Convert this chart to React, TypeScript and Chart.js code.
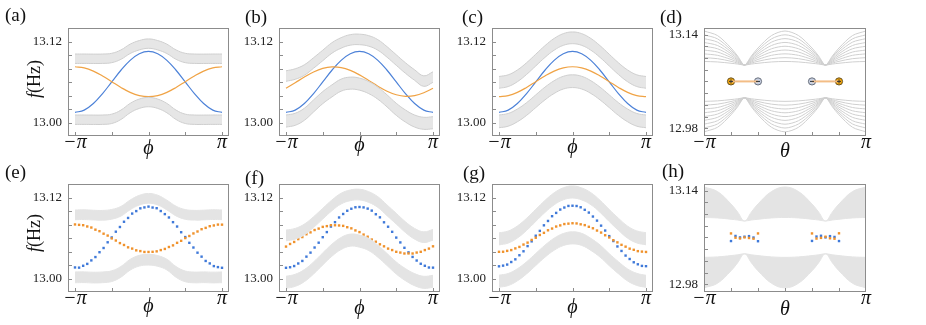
import React, { useEffect, useRef } from "react";
import { Chart, registerables } from "chart.js";

Chart.register(...registerables);

const SERIF = "'Liberation Serif', 'Times New Roman', Times, serif";

// ---------- colours ----------
const BLUE = "#4d82d8";
const ORANGE = "#f0a345";
const DOT_BLUE = "#3f79d9";
const DOT_ORANGE = "#f0922c";
const BAND_FILL = "#e6e6e6";
const BAND_EDGE = "#cfcfcf";
const EXP_BAND = "#e4e4e4";
const D_LINE = "#d0d0d0";
const FRAME = "#8c8c8c";

// ---------- axes / ticks ----------
const phiDeg17 = [-180, -157.5, -135, -112.5, -90, -67.5, -45, -22.5, 0, 22.5, 45, 67.5, 90, 112.5, 135, 157.5, 180];
const phiDeg37 = [-180, -170, -160, -150, -140, -130, -120, -110, -100, -90, -80, -70, -60, -50, -40, -30, -20, -10, 0, 10, 20, 30, 40, 50, 60, 70, 80, 90, 100, 110, 120, 130, 140, 150, 160, 170, 180];
const thetaDeg17 = [-180, -150, -120, -105, -90, -75, -60, -30, 0, 30, 60, 75, 90, 105, 120, 150, 180];

const phiTickDeg = [-180, -90, 0, 90, 180];
const phiLabelDeg = [-180, 180];
const thetaTickDeg = [-120, -60, 0, 60, 120];
const thetaLabelDeg = [-180, 180];
const fTicksPhi = [13.0, 13.02, 13.04, 13.06, 13.08, 13.1, 13.12];
const fLabelsPhi = [13.0, 13.12];
const fTicksTheta = [12.98, 13.0, 13.02, 13.04, 13.06, 13.08, 13.1, 13.12, 13.14];
const fLabelsTheta = [12.98, 13.14];

// ---------- (a)-(c) theory curves ----------
const topBlue = [13.0150, 13.0185, 13.0283, 13.0431, 13.0605, 13.0779, 13.0927, 13.1025, 13.1060, 13.1025, 13.0927, 13.0779, 13.0605, 13.0431, 13.0283, 13.0185, 13.0150];

const aOrange = [13.0831, 13.0814, 13.0766, 13.0693, 13.0608, 13.0523, 13.0450, 13.0402, 13.0385, 13.0402, 13.0450, 13.0523, 13.0608, 13.0693, 13.0766, 13.0814, 13.0831];
const aUpperTop = [13.1021, 13.1021, 13.1020, 13.1021, 13.1032, 13.1082, 13.1168, 13.1222, 13.1246, 13.1222, 13.1168, 13.1082, 13.1032, 13.1021, 13.1020, 13.1021, 13.1021];
const aUpperBottom = [13.0881, 13.0881, 13.0880, 13.0881, 13.0892, 13.0942, 13.1028, 13.1082, 13.1106, 13.1082, 13.1028, 13.0942, 13.0892, 13.0881, 13.0880, 13.0881, 13.0881];
const aLowerTop = [13.0112, 13.0112, 13.0111, 13.0112, 13.0125, 13.0185, 13.0285, 13.0350, 13.0375, 13.0350, 13.0285, 13.0185, 13.0125, 13.0112, 13.0111, 13.0112, 13.0112];
const aLowerBottom = [12.9972, 12.9972, 12.9971, 12.9972, 12.9985, 13.0045, 13.0145, 13.0210, 13.0235, 13.0210, 13.0145, 13.0045, 12.9985, 12.9972, 12.9971, 12.9972, 12.9972];

const bOrange = [13.0510, 13.0593, 13.0678, 13.0753, 13.0806, 13.0829, 13.0819, 13.0777, 13.0710, 13.0627, 13.0542, 13.0467, 13.0414, 13.0391, 13.0401, 13.0443, 13.0510];
const bUpperTop = [13.0771, 13.0801, 13.0861, 13.0966, 13.1078, 13.1190, 13.1265, 13.1310, 13.1317, 13.1295, 13.1235, 13.1130, 13.1010, 13.0891, 13.0786, 13.0696, 13.0756];
const bUpperBottom = [13.0614, 13.0644, 13.0704, 13.0809, 13.0921, 13.1033, 13.1108, 13.1153, 13.1160, 13.1138, 13.1078, 13.0973, 13.0853, 13.0734, 13.0629, 13.0539, 13.0599];
const bLowerTop = [13.0112, 13.0138, 13.0213, 13.0337, 13.0461, 13.0561, 13.0647, 13.0677, 13.0662, 13.0611, 13.0527, 13.0412, 13.0287, 13.0187, 13.0112, 13.0078, 13.0087];
const bLowerBottom = [12.9932, 12.9958, 13.0033, 13.0157, 13.0281, 13.0381, 13.0467, 13.0497, 13.0482, 13.0431, 13.0347, 13.0232, 13.0107, 13.0007, 12.9932, 12.9898, 12.9907];

const cOrange = [13.0385, 13.0402, 13.0450, 13.0523, 13.0608, 13.0693, 13.0766, 13.0814, 13.0831, 13.0814, 13.0766, 13.0693, 13.0608, 13.0523, 13.0450, 13.0402, 13.0385];
const cUpperTop = [13.0686, 13.0711, 13.0783, 13.0891, 13.1018, 13.1145, 13.1253, 13.1325, 13.1350, 13.1325, 13.1253, 13.1145, 13.1018, 13.0891, 13.0783, 13.0711, 13.0686];
const cUpperBottom = [13.0511, 13.0536, 13.0608, 13.0716, 13.0843, 13.0970, 13.1078, 13.1150, 13.1175, 13.1150, 13.1078, 13.0970, 13.0843, 13.0716, 13.0608, 13.0536, 13.0511];
const cLowerTop = [13.0112, 13.0135, 13.0201, 13.0296, 13.0412, 13.0527, 13.0623, 13.0689, 13.0711, 13.0689, 13.0623, 13.0527, 13.0412, 13.0296, 13.0201, 13.0135, 13.0112];
const cLowerBottom = [12.9922, 12.9945, 13.0011, 13.0106, 13.0222, 13.0337, 13.0433, 13.0499, 13.0521, 13.0499, 13.0433, 13.0337, 13.0222, 13.0106, 13.0011, 12.9945, 12.9922];

// ---------- (d) bulk lines ----------
const dU0 = [13.0940, 13.0932, 13.0910, 13.0896, 13.0880, 13.0896, 13.0910, 13.0932, 13.0940, 13.0932, 13.0910, 13.0896, 13.0880, 13.0896, 13.0910, 13.0932, 13.0940];
const dU1 = [13.1005, 13.0988, 13.0943, 13.0912, 13.0880, 13.0912, 13.0943, 13.0988, 13.1005, 13.0988, 13.0943, 13.0912, 13.0880, 13.0912, 13.0943, 13.0988, 13.1005];
const dU2 = [13.1070, 13.1045, 13.0975, 13.0929, 13.0880, 13.0929, 13.0975, 13.1045, 13.1070, 13.1045, 13.0975, 13.0929, 13.0880, 13.0929, 13.0975, 13.1045, 13.1070];
const dU3 = [13.1135, 13.1101, 13.1008, 13.0946, 13.0880, 13.0946, 13.1008, 13.1101, 13.1135, 13.1101, 13.1008, 13.0946, 13.0880, 13.0946, 13.1008, 13.1101, 13.1135];
const dU4 = [13.1200, 13.1157, 13.1040, 13.0963, 13.0880, 13.0963, 13.1040, 13.1157, 13.1200, 13.1157, 13.1040, 13.0963, 13.0880, 13.0963, 13.1040, 13.1157, 13.1200];
const dU5 = [13.1265, 13.1213, 13.1073, 13.0980, 13.0880, 13.0980, 13.1073, 13.1213, 13.1265, 13.1213, 13.1073, 13.0980, 13.0880, 13.0980, 13.1073, 13.1213, 13.1265];
const dU6 = [13.1330, 13.1270, 13.1105, 13.0996, 13.0880, 13.0996, 13.1105, 13.1270, 13.1330, 13.1270, 13.1105, 13.0996, 13.0880, 13.0996, 13.1105, 13.1270, 13.1330];
const dU7 = [13.1395, 13.1326, 13.1138, 13.1013, 13.0880, 13.1013, 13.1138, 13.1326, 13.1395, 13.1326, 13.1138, 13.1013, 13.0880, 13.1013, 13.1138, 13.1326, 13.1395];
const dU8 = [13.1460, 13.1382, 13.1170, 13.1030, 13.0880, 13.1030, 13.1170, 13.1382, 13.1460, 13.1382, 13.1170, 13.1030, 13.0880, 13.1030, 13.1170, 13.1382, 13.1460];
const dL0 = [13.0260, 13.0268, 13.0290, 13.0304, 13.0320, 13.0304, 13.0290, 13.0268, 13.0260, 13.0268, 13.0290, 13.0304, 13.0320, 13.0304, 13.0290, 13.0268, 13.0260];
const dL1 = [13.0195, 13.0212, 13.0257, 13.0288, 13.0320, 13.0288, 13.0257, 13.0212, 13.0195, 13.0212, 13.0257, 13.0288, 13.0320, 13.0288, 13.0257, 13.0212, 13.0195];
const dL2 = [13.0130, 13.0155, 13.0225, 13.0271, 13.0320, 13.0271, 13.0225, 13.0155, 13.0130, 13.0155, 13.0225, 13.0271, 13.0320, 13.0271, 13.0225, 13.0155, 13.0130];
const dL3 = [13.0065, 13.0099, 13.0192, 13.0254, 13.0320, 13.0254, 13.0192, 13.0099, 13.0065, 13.0099, 13.0192, 13.0254, 13.0320, 13.0254, 13.0192, 13.0099, 13.0065];
const dL4 = [13.0000, 13.0043, 13.0160, 13.0237, 13.0320, 13.0237, 13.0160, 13.0043, 13.0000, 13.0043, 13.0160, 13.0237, 13.0320, 13.0237, 13.0160, 13.0043, 13.0000];
const dL5 = [12.9935, 12.9987, 13.0127, 13.0220, 13.0320, 13.0220, 13.0127, 12.9987, 12.9935, 12.9987, 13.0127, 13.0220, 13.0320, 13.0220, 13.0127, 12.9987, 12.9935];
const dL6 = [12.9870, 12.9930, 13.0095, 13.0204, 13.0320, 13.0204, 13.0095, 12.9930, 12.9870, 12.9930, 13.0095, 13.0204, 13.0320, 13.0204, 13.0095, 12.9930, 12.9870];
const dL7 = [12.9805, 12.9874, 13.0062, 13.0187, 13.0320, 13.0187, 13.0062, 12.9874, 12.9805, 12.9874, 13.0062, 13.0187, 13.0320, 13.0187, 13.0062, 12.9874, 12.9805];
const dL8 = [12.9740, 12.9818, 13.0030, 13.0170, 13.0320, 13.0170, 13.0030, 12.9818, 12.9740, 12.9818, 13.0030, 13.0170, 13.0320, 13.0170, 13.0030, 12.9818, 12.9740];
const dUpperLines = [dU0, dU1, dU2, dU3, dU4, dU5, dU6, dU7, dU8];
const dLowerLines = [dL0, dL1, dL2, dL3, dL4, dL5, dL6, dL7, dL8];

// (d) edge states
const dEdgeLeftTheta = [-120, -60];
const dEdgeRightTheta = [60, 120];
const dEdgeFreq = [13.06, 13.06];
const dMarkTheta = [-120, -60, 60, 120];
const dMarkFreq = [13.06, 13.06, 13.06, 13.06];
const dMarkSign = ["+", "-", "-", "+"];

// ---------- (e)-(g) measured ----------
const eBlue = [13.0165, 13.0162, 13.0190, 13.0218, 13.0270, 13.0320, 13.0392, 13.0455, 13.0540, 13.0612, 13.0698, 13.0768, 13.0846, 13.0903, 13.0968, 13.1005, 13.1046, 13.1060, 13.1072, 13.1058, 13.1048, 13.1006, 13.0960, 13.0910, 13.0840, 13.0775, 13.0690, 13.0618, 13.0532, 13.0462, 13.0385, 13.0326, 13.0262, 13.0225, 13.0185, 13.0170, 13.0160];
const eOrange = [13.0806, 13.0800, 13.0795, 13.0776, 13.0760, 13.0728, 13.0706, 13.0668, 13.0640, 13.0598, 13.0566, 13.0528, 13.0500, 13.0465, 13.0446, 13.0420, 13.0409, 13.0396, 13.0396, 13.0398, 13.0405, 13.0424, 13.0441, 13.0470, 13.0494, 13.0532, 13.0562, 13.0603, 13.0634, 13.0672, 13.0701, 13.0735, 13.0755, 13.0780, 13.0791, 13.0804, 13.0803];
const eUpperTop = [13.1021, 13.1024, 13.1018, 13.1015, 13.1030, 13.1075, 13.1170, 13.1240, 13.1268, 13.1242, 13.1168, 13.1078, 13.1028, 13.1016, 13.1019, 13.1025, 13.1022];
const eUpperBottom = [13.0876, 13.0879, 13.0873, 13.0870, 13.0885, 13.0930, 13.1025, 13.1095, 13.1123, 13.1097, 13.1023, 13.0933, 13.0883, 13.0871, 13.0874, 13.0880, 13.0877];
const eLowerTop = [13.0097, 13.0099, 13.0094, 13.0098, 13.0115, 13.0180, 13.0285, 13.0345, 13.0360, 13.0342, 13.0288, 13.0178, 13.0112, 13.0096, 13.0099, 13.0095, 13.0098];
const eLowerBottom = [12.9937, 12.9939, 12.9934, 12.9938, 12.9955, 13.0020, 13.0125, 13.0185, 13.0200, 13.0182, 13.0128, 13.0018, 12.9952, 12.9936, 12.9939, 12.9935, 12.9938];

const fBlue = [13.0160, 13.0168, 13.0186, 13.0224, 13.0262, 13.0326, 13.0386, 13.0462, 13.0534, 13.0616, 13.0692, 13.0774, 13.0840, 13.0910, 13.0962, 13.1010, 13.1040, 13.1062, 13.1066, 13.1060, 13.1042, 13.1012, 13.0958, 13.0912, 13.0838, 13.0772, 13.0696, 13.0610, 13.0538, 13.0458, 13.0390, 13.0322, 13.0268, 13.0220, 13.0190, 13.0164, 13.0162];
const fOrange = [13.0476, 13.0515, 13.0545, 13.0587, 13.0618, 13.0660, 13.0688, 13.0723, 13.0744, 13.0770, 13.0781, 13.0795, 13.0794, 13.0791, 13.0785, 13.0765, 13.0748, 13.0717, 13.0692, 13.0655, 13.0623, 13.0581, 13.0549, 13.0510, 13.0480, 13.0446, 13.0424, 13.0398, 13.0387, 13.0373, 13.0374, 13.0373, 13.0387, 13.0398, 13.0424, 13.0446, 13.0480];
const fUpperTop = [13.0722, 13.0747, 13.0811, 13.0921, 13.1046, 13.1171, 13.1271, 13.1320, 13.1331, 13.1295, 13.1220, 13.1096, 13.0972, 13.0846, 13.0747, 13.0696, 13.0732];
const fUpperBottom = [13.0562, 13.0587, 13.0651, 13.0761, 13.0886, 13.1011, 13.1111, 13.1160, 13.1171, 13.1135, 13.1060, 13.0936, 13.0812, 13.0686, 13.0587, 13.0536, 13.0572];
const fLowerTop = [13.0033, 13.0063, 13.0133, 13.0247, 13.0382, 13.0512, 13.0612, 13.0662, 13.0647, 13.0597, 13.0497, 13.0373, 13.0247, 13.0148, 13.0073, 13.0033, 13.0048];
const fLowerBottom = [12.9853, 12.9883, 12.9953, 13.0067, 13.0202, 13.0332, 13.0432, 13.0482, 13.0467, 13.0417, 13.0317, 13.0193, 13.0067, 12.9968, 12.9893, 12.9853, 12.9868];

const gBlue = [13.0182, 13.0192, 13.0208, 13.0246, 13.0286, 13.0347, 13.0406, 13.0483, 13.0554, 13.0638, 13.0710, 13.0793, 13.0858, 13.0929, 13.0978, 13.1028, 13.1058, 13.1082, 13.1085, 13.1081, 13.1062, 13.1024, 13.0983, 13.0924, 13.0863, 13.0788, 13.0715, 13.0632, 13.0559, 13.0478, 13.0411, 13.0342, 13.0291, 13.0242, 13.0212, 13.0188, 13.0184];
const gOrange = [13.0398, 13.0399, 13.0412, 13.0424, 13.0449, 13.0471, 13.0506, 13.0535, 13.0575, 13.0608, 13.0649, 13.0681, 13.0719, 13.0745, 13.0775, 13.0792, 13.0812, 13.0818, 13.0824, 13.0821, 13.0808, 13.0796, 13.0771, 13.0749, 13.0715, 13.0685, 13.0645, 13.0612, 13.0571, 13.0539, 13.0502, 13.0475, 13.0445, 13.0428, 13.0408, 13.0401, 13.0396];
const gUpperTop = [13.0681, 13.0708, 13.0783, 13.0897, 13.1031, 13.1164, 13.1278, 13.1353, 13.1380, 13.1351, 13.1280, 13.1166, 13.1029, 13.0899, 13.0781, 13.0710, 13.0683];
const gUpperBottom = [13.0501, 13.0528, 13.0603, 13.0717, 13.0851, 13.0984, 13.1098, 13.1173, 13.1200, 13.1171, 13.1100, 13.0986, 13.0849, 13.0719, 13.0601, 13.0530, 13.0503];
const gLowerTop = [13.0050, 13.0075, 13.0145, 13.0249, 13.0373, 13.0497, 13.0601, 13.0671, 13.0696, 13.0673, 13.0599, 13.0499, 13.0371, 13.0251, 13.0143, 13.0077, 13.0048];
const gLowerBottom = [12.9870, 12.9895, 12.9965, 13.0069, 13.0193, 13.0317, 13.0421, 13.0491, 13.0516, 13.0493, 13.0419, 13.0319, 13.0191, 13.0071, 12.9963, 12.9897, 12.9868];

// ---------- (h) measured ----------
const hLeftTheta = [-120, -110, -100, -90, -80, -70, -60];
const hRightTheta = [60, 70, 80, 90, 100, 110, 120];
const hLeftOrange = [13.0668, 13.0595, 13.0582, 13.0600, 13.0590, 13.0578, 13.0668];
const hLeftBlue = [13.0538, 13.0625, 13.0600, 13.0612, 13.0622, 13.0598, 13.0535];
const hRightOrange = [13.0668, 13.0580, 13.0592, 13.0612, 13.0585, 13.0578, 13.0670];
const hRightBlue = [13.0540, 13.0615, 13.0628, 13.0600, 13.0622, 13.0608, 13.0538];

// ---------- dataset helpers ----------
const xy = (xs: number[], ys: number[]) => xs.map((x, i) => ({ x, y: ys[i] }));

function curve(xs: number[], ys: number[], color: string, width = 1.2, tension = 0.4) {
  return { data: xy(xs, ys), borderColor: color, borderWidth: width, pointRadius: 0, fill: false, tension };
}
function band(xs: number[], top: number[], bottom: number[], fill: string, edge: string, edgeWidth = 1) {
  return [
    { data: xy(xs, bottom), borderColor: edge, borderWidth: edgeWidth, pointRadius: 0, fill: false, tension: 0.4 },
    { data: xy(xs, top), borderColor: edge, borderWidth: edgeWidth, pointRadius: 0, fill: "-1", backgroundColor: fill, tension: 0.4 },
  ];
}
function dots(xs: number[], ys: number[], color: string) {
  return {
    data: xy(xs, ys), showLine: false, pointStyle: "rect", pointRadius: 1.7,
    pointBackgroundColor: color, pointBorderWidth: 0, borderColor: color, backgroundColor: color,
  };
}

// ---------- plugins ----------
const frameTicksPlugin = {
  id: "frameTicks",
  afterDatasetsDraw(chart: any, _args: any, opts: any) {
    const { ctx, chartArea: a, scales } = chart;
    ctx.save();
    ctx.strokeStyle = FRAME;
    ctx.lineWidth = 1;
    ctx.beginPath();
    for (const v of opts.xTicks) {
      const px = Math.round(scales.x.getPixelForValue(v)) + 0.5;
      ctx.moveTo(px, a.bottom);
      ctx.lineTo(px, a.bottom - 4);
    }
    for (const v of opts.yTicks) {
      const py = Math.round(scales.y.getPixelForValue(v)) + 0.5;
      ctx.moveTo(a.left, py);
      ctx.lineTo(a.left + 4, py);
    }
    ctx.stroke();
    ctx.strokeRect(a.left + 0.5, a.top + 0.5, a.right - a.left - 1, a.bottom - a.top - 1);
    ctx.restore();
  },
};

const signPlugin = {
  id: "edgeSigns",
  afterDatasetsDraw(chart: any) {
    const ctx = chart.ctx;
    chart.data.datasets.forEach((ds: any, i: number) => {
      if (!ds.signs) return;
      const meta = chart.getDatasetMeta(i);
      meta.data.forEach((el: any, j: number) => {
        const s = ds.signs[j];
        const x = el.x, y = el.y;
        ctx.save();
        ctx.strokeStyle = "#333";
        ctx.lineWidth = 1;
        ctx.beginPath();
        ctx.moveTo(x - 2, y);
        ctx.lineTo(x + 2, y);
        if (s === "+") {
          ctx.moveTo(x, y - 2);
          ctx.lineTo(x, y + 2);
        }
        ctx.stroke();
        ctx.restore();
      });
    });
  },
};

// ---------- panels ----------
const PHI_PAD = 17.14;
const PHI_Y = { min: 12.9799, max: 13.1409 };
const THETA_Y = { min: 12.9669, max: 13.1511 };

type Spec = {
  key: string; L: number; T: number; W: number; H: number; theta: boolean; build: () => any[];
};

const panels: Spec[] = [
  {
    key: "a", L: 68, T: 28, W: 161, H: 108, theta: false,
    build: () => [
      ...band(phiDeg17, aUpperTop, aUpperBottom, BAND_FILL, BAND_EDGE),
      ...band(phiDeg17, aLowerTop, aLowerBottom, BAND_FILL, BAND_EDGE),
      curve(phiDeg17, aOrange, ORANGE),
      curve(phiDeg17, topBlue, BLUE),
    ],
  },
  {
    key: "b", L: 279, T: 28, W: 161, H: 108, theta: false,
    build: () => [
      ...band(phiDeg17, bUpperTop, bUpperBottom, BAND_FILL, BAND_EDGE),
      ...band(phiDeg17, bLowerTop, bLowerBottom, BAND_FILL, BAND_EDGE),
      curve(phiDeg17, bOrange, ORANGE),
      curve(phiDeg17, topBlue, BLUE),
    ],
  },
  {
    key: "c", L: 492, T: 28, W: 161, H: 108, theta: false,
    build: () => [
      ...band(phiDeg17, cUpperTop, cUpperBottom, BAND_FILL, BAND_EDGE),
      ...band(phiDeg17, cLowerTop, cLowerBottom, BAND_FILL, BAND_EDGE),
      curve(phiDeg17, cOrange, ORANGE),
      curve(phiDeg17, topBlue, BLUE),
    ],
  },
  {
    key: "d", L: 704, T: 28, W: 162, H: 108, theta: true,
    build: () => [
      ...dUpperLines.map((l) => curve(thetaDeg17, l, D_LINE, 1, 0.3)),
      ...dLowerLines.map((l) => curve(thetaDeg17, l, D_LINE, 1, 0.3)),
      curve(dEdgeLeftTheta, dEdgeFreq, "#f3bd86", 2, 0),
      curve(dEdgeRightTheta, dEdgeFreq, "#f3bd86", 2, 0),
      {
        data: xy(dMarkTheta, dMarkFreq), showLine: false, pointStyle: "circle", pointRadius: 3.6,
        pointBackgroundColor: ["#f2a60c", "#c9d1e2", "#c9d1e2", "#f2a60c"],
        pointBorderColor: ["#5a4a22", "#5e6472", "#5e6472", "#5a4a22"],
        pointBorderWidth: 0.9, signs: dMarkSign,
      },
    ],
  },
  {
    key: "e", L: 68, T: 184, W: 161, H: 108, theta: false,
    build: () => [
      ...band(phiDeg17, eUpperTop, eUpperBottom, EXP_BAND, EXP_BAND),
      ...band(phiDeg17, eLowerTop, eLowerBottom, EXP_BAND, EXP_BAND),
      dots(phiDeg37, eOrange, DOT_ORANGE),
      dots(phiDeg37, eBlue, DOT_BLUE),
    ],
  },
  {
    key: "f", L: 279, T: 184, W: 161, H: 108, theta: false,
    build: () => [
      ...band(phiDeg17, fUpperTop, fUpperBottom, EXP_BAND, EXP_BAND),
      ...band(phiDeg17, fLowerTop, fLowerBottom, EXP_BAND, EXP_BAND),
      dots(phiDeg37, fOrange, DOT_ORANGE),
      dots(phiDeg37, fBlue, DOT_BLUE),
    ],
  },
  {
    key: "g", L: 492, T: 184, W: 161, H: 108, theta: false,
    build: () => [
      ...band(phiDeg17, gUpperTop, gUpperBottom, EXP_BAND, EXP_BAND),
      ...band(phiDeg17, gLowerTop, gLowerBottom, EXP_BAND, EXP_BAND),
      dots(phiDeg37, gOrange, DOT_ORANGE),
      dots(phiDeg37, gBlue, DOT_BLUE),
    ],
  },
  {
    key: "h", L: 704, T: 184, W: 162, H: 108, theta: true,
    build: () => [
      ...band(thetaDeg17, dU8, dU0, EXP_BAND, EXP_BAND),
      ...band(thetaDeg17, dL0, dL8, EXP_BAND, EXP_BAND),
      dots(hLeftTheta, hLeftOrange, DOT_ORANGE),
      dots(hRightTheta, hRightOrange, DOT_ORANGE),
      dots(hLeftTheta, hLeftBlue, DOT_BLUE),
      dots(hRightTheta, hRightBlue, DOT_BLUE),
    ],
  },
];

function PanelChart({ spec }: { spec: Spec }) {
  const ref = useRef<HTMLCanvasElement>(null);
  const cw = spec.W + 72;
  const ch = spec.H + 56;
  useEffect(() => {
    const xTicks = spec.theta ? thetaTickDeg : phiTickDeg;
    const xLabels = spec.theta ? thetaLabelDeg : phiLabelDeg;
    const yTicks = spec.theta ? fTicksTheta : fTicksPhi;
    const yLabels = spec.theta ? fLabelsTheta : fLabelsPhi;
    const yr = spec.theta ? THETA_Y : PHI_Y;
    const xMin = spec.theta ? -180 : -180 - PHI_PAD;
    const xMax = spec.theta ? 180 : 180 + PHI_PAD;
    const chart = new Chart(ref.current as HTMLCanvasElement, {
      type: "line",
      data: { datasets: spec.build() },
      options: {
        animation: false,
        responsive: false,
        devicePixelRatio: 1,
        events: [],
        layout: { padding: { left: 0, right: 8, top: 24, bottom: 0 } },
        plugins: {
          legend: { display: false },
          tooltip: { enabled: false },
          frameTicks: { xTicks, yTicks },
        },
        scales: {
          x: {
            type: "linear", position: "bottom", min: xMin, max: xMax,
            grid: { display: false, drawTicks: false }, border: { display: false },
            ticks: {
              autoSkip: false, maxRotation: 0, minRotation: 0, padding: -3, color: "#111",
              font: { family: SERIF, size: 20, style: "italic", lineHeight: 1 },
              callback: (v: any) => (Number(v) < 0 ? "\u2212\u03c0" : "\u03c0"),
            },
            afterBuildTicks: (s: any) => { s.ticks = xLabels.map((v) => ({ value: v })); },
            afterFit: (s: any) => { s.height = 32; s.paddingLeft = 0; s.paddingRight = 0; },
          },
          y: {
            type: "linear", position: "left", min: yr.min, max: yr.max,
            grid: { display: false, drawTicks: false }, border: { display: false },
            ticks: {
              padding: 6, color: "#222",
              font: { family: SERIF, size: 13, lineHeight: 1 },
              callback: (v: any) => Number(v).toFixed(2),
            },
            afterBuildTicks: (s: any) => { s.ticks = yLabels.map((v) => ({ value: v })); },
            afterFit: (s: any) => { s.width = 64; s.paddingTop = 0; s.paddingBottom = 0; },
          },
        },
      } as any,
      plugins: [frameTicksPlugin, signPlugin],
    });
    return () => chart.destroy();
  }, [spec]);
  return (
    <canvas
      ref={ref}
      width={cw}
      height={ch}
      style={{ position: "absolute", left: spec.L - 64, top: spec.T - 24, width: cw, height: ch }}
    />
  );
}

// ---------- text ----------
function Txt({ x, baseline, size, italic, center, children }: any) {
  return (
    <div
      style={{
        position: "absolute", left: x, top: baseline - 0.8375 * size,
        fontSize: size, lineHeight: `${size}px`, fontStyle: italic ? "italic" : "normal",
        whiteSpace: "nowrap", transform: center ? "translateX(-50%)" : undefined,
      }}
    >
      {children}
    </div>
  );
}

const PHI = "\u03d5";
const THETA = "\u03b8";
const panelLetters = [
  { t: "(a)", x: 5, b: 21 }, { t: "(b)", x: 245, b: 23 }, { t: "(c)", x: 462, b: 23 }, { t: "(d)", x: 660, b: 23 },
  { t: "(e)", x: 5, b: 178 }, { t: "(f)", x: 245, b: 184 }, { t: "(g)", x: 463, b: 178.5 }, { t: "(h)", x: 662, b: 177 },
];
const axisTitles = [
  { t: PHI, x: 148.5, b: 154 }, { t: PHI, x: 359.5, b: 151 }, { t: PHI, x: 572.5, b: 153 }, { t: THETA, x: 785, b: 156.5 },
  { t: PHI, x: 148.5, b: 312 }, { t: PHI, x: 359.5, b: 314 }, { t: PHI, x: 572.5, b: 313 }, { t: THETA, x: 785, b: 315 },
];
const yTitleCenters = [{ x: 34, y: 78.5 }, { x: 34, y: 232.5 }];

export default function App() {
  return (
    <div
      style={{
        position: "absolute", left: 0, top: 0, width: 926, height: 325, background: "#fff",
        overflow: "hidden", fontFamily: SERIF, color: "#111",
      }}
    >
      {panels.map((p) => <PanelChart key={p.key} spec={p} />)}
      {panelLetters.map((l) => (
        <Txt key={l.t} x={l.x} baseline={l.b} size={19}>{l.t}</Txt>
      ))}
      {axisTitles.map((a, i) => (
        <Txt key={"ax" + i} x={a.x} baseline={a.b} size={20} italic center>{a.t}</Txt>
      ))}
      {yTitleCenters.map((c, i) => (
        <div
          key={"yt" + i}
          style={{
            position: "absolute", left: c.x, top: c.y, fontSize: 18, lineHeight: "18px", whiteSpace: "nowrap",
            transform: "translate(-50%, -50%) rotate(-90deg)",
          }}
        >
          <span style={{ fontStyle: "italic" }}>f</span>(Hz)
        </div>
      ))}
    </div>
  );
}
